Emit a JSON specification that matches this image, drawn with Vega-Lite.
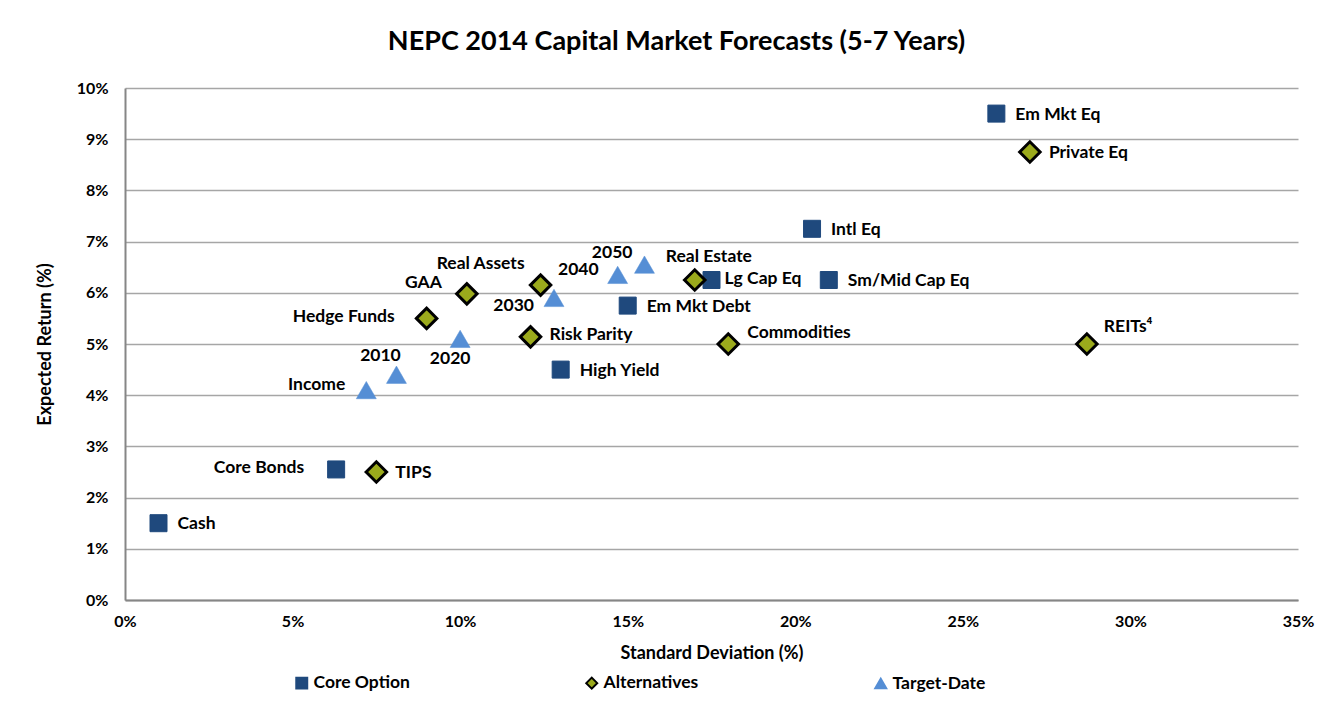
{
  "$schema": "https://vega.github.io/schema/vega-lite/v6.json",
  "width": 1173,
  "height": 512,
  "autosize": {"type": "none"},
  "padding": {"left": 125, "top": 88, "right": 40, "bottom": 104},
  "background": "white",
  "config": {
    "font": "Lato",
    "view": {"stroke": null},
    "text": {"font": "Lato", "fontWeight": "bold", "fontSize": 17.5, "color": "#000000"},
    "legend": {
      "orient": "none",
      "legendX": 168,
      "legendY": 586,
      "direction": "horizontal",
      "columnPadding": 172,
      "symbolSize": 120,
      "symbolStrokeWidth": 2,
      "labelFont": "Lato",
      "labelFontWeight": "bold",
      "labelFontSize": 17.5,
      "labelColor": "#000000",
      "labelOffset": 3
    }
  },
  "title": {
    "text": "NEPC 2014 Capital Market Forecasts (5-7 Years)",
    "font": "Lato",
    "fontSize": 27,
    "fontWeight": "bold",
    "color": "#000000",
    "anchor": "middle",
    "dx": -35,
    "offset": 24
  },
  "data": {
    "values": [
      {"label": "Cash", "group": "Core Option", "sd": 1.0, "ret": 1.5},
      {"label": "Core Bonds", "group": "Core Option", "sd": 6.3, "ret": 2.55},
      {"label": "High Yield", "group": "Core Option", "sd": 13.0, "ret": 4.5},
      {"label": "Em Mkt Debt", "group": "Core Option", "sd": 15.0, "ret": 5.75},
      {"label": "Lg Cap Eq", "group": "Core Option", "sd": 17.5, "ret": 6.25},
      {"label": "Sm/Mid Cap Eq", "group": "Core Option", "sd": 21.0, "ret": 6.25},
      {"label": "Intl Eq", "group": "Core Option", "sd": 20.5, "ret": 7.25},
      {"label": "Em Mkt Eq", "group": "Core Option", "sd": 26.0, "ret": 9.5},
      {"label": "TIPS", "group": "Alternatives", "sd": 7.5, "ret": 2.5},
      {"label": "Hedge Funds", "group": "Alternatives", "sd": 9.0, "ret": 5.5},
      {"label": "GAA", "group": "Alternatives", "sd": 10.2, "ret": 5.98},
      {"label": "Real Assets", "group": "Alternatives", "sd": 12.4, "ret": 6.15},
      {"label": "Risk Parity", "group": "Alternatives", "sd": 12.1, "ret": 5.14},
      {"label": "Commodities", "group": "Alternatives", "sd": 18.0, "ret": 5.0},
      {"label": "Real Estate", "group": "Alternatives", "sd": 17.0, "ret": 6.25},
      {"label": "Private Eq", "group": "Alternatives", "sd": 27.0, "ret": 8.75},
      {"label": "REITs⁴", "group": "Alternatives", "sd": 28.7, "ret": 5.0},
      {"label": "Income", "group": "Target-Date", "sd": 7.2, "ret": 4.1},
      {"label": "2010", "group": "Target-Date", "sd": 8.1, "ret": 4.4},
      {"label": "2020", "group": "Target-Date", "sd": 10.0, "ret": 5.1},
      {"label": "2030", "group": "Target-Date", "sd": 12.8, "ret": 5.9},
      {"label": "2040", "group": "Target-Date", "sd": 14.7, "ret": 6.35},
      {"label": "2050", "group": "Target-Date", "sd": 15.5, "ret": 6.55}
    ]
  },
  "encoding": {
    "x": {
      "field": "sd",
      "type": "quantitative",
      "scale": {"domain": [0, 35], "nice": false, "zero": true},
      "axis": {
        "title": "Standard Deviation (%)",
        "values": [0, 5, 10, 15, 20, 25, 30, 35],
        "labelExpr": "datum.value + '%'",
        "labelFlush": false,
        "grid": false,
        "ticks": false,
        "domainColor": "#868686",
        "domainWidth": 2,
        "labelFont": "Lato",
        "labelFontWeight": "bold",
        "labelFontSize": 16,
        "labelColor": "#000000",
        "labelPadding": 13,
        "titleFont": "Lato",
        "titleFontWeight": "bold",
        "titleFontSize": 18,
        "titleColor": "#000000",
        "titlePadding": 15
      }
    },
    "y": {
      "field": "ret",
      "type": "quantitative",
      "scale": {"domain": [0, 10], "nice": false},
      "axis": {
        "title": "Expected Return (%)",
        "values": [0, 1, 2, 3, 4, 5, 6, 7, 8, 9, 10],
        "labelExpr": "datum.value + '%'",
        "labelFlush": false,
        "grid": true,
        "gridColor": "#A6A6A6",
        "gridWidth": 1.5,
        "ticks": false,
        "domainColor": "#868686",
        "domainWidth": 2,
        "labelFont": "Lato",
        "labelFontWeight": "bold",
        "labelFontSize": 16,
        "labelColor": "#000000",
        "labelPadding": 17,
        "titleFont": "Lato",
        "titleFontWeight": "bold",
        "titleFontSize": 18,
        "titleColor": "#000000",
        "titlePadding": 22
      }
    }
  },
  "layer": [
    {
      "transform": [{"filter": "datum.group === 'Core Option'"}],
      "mark": {"type": "point", "filled": true, "size": 289, "strokeWidth": 1, "opacity": 1},
      "encoding": {
        "shape": {"field": "group", "type": "nominal", "title": null, "scale": {"domain": ["Core Option", "Alternatives", "Target-Date"], "range": ["square", "diamond", "triangle-up"]}},
        "fill": {"field": "group", "type": "nominal", "title": null, "scale": {"domain": ["Core Option", "Alternatives", "Target-Date"], "range": ["#1F497D", "#9BAA1C", "#558ED5"]}},
        "stroke": {"field": "group", "type": "nominal", "title": null, "scale": {"domain": ["Core Option", "Alternatives", "Target-Date"], "range": ["#1F497D", "#000000", "#558ED5"]}}
      }
    },
    {
      "transform": [{"filter": "datum.group === 'Alternatives'"}],
      "mark": {"type": "point", "filled": true, "size": 420, "strokeWidth": 3, "opacity": 1},
      "encoding": {
        "shape": {"field": "group", "type": "nominal", "title": null},
        "fill": {"field": "group", "type": "nominal", "title": null},
        "stroke": {"field": "group", "type": "nominal", "title": null}
      }
    },
    {
      "transform": [{"filter": "datum.group === 'Target-Date'"}],
      "mark": {"type": "point", "filled": true, "size": 400, "strokeWidth": 0.5, "opacity": 1},
      "encoding": {
        "shape": {"field": "group", "type": "nominal", "title": null},
        "fill": {"field": "group", "type": "nominal", "title": null},
        "stroke": {"field": "group", "type": "nominal", "title": null}
      }
    },
    {
      "transform": [{"filter": {"field": "label", "oneOf": ["Cash", "High Yield", "Em Mkt Debt", "Sm/Mid Cap Eq", "Intl Eq", "Em Mkt Eq", "TIPS", "Private Eq"]}}],
      "mark": {"type": "text", "align": "left", "baseline": "middle", "dx": 19, "dy": 1},
      "encoding": {"text": {"field": "label"}}
    },
    {
      "transform": [{"filter": {"field": "label", "oneOf": ["Lg Cap Eq"]}}],
      "mark": {"type": "text", "align": "left", "baseline": "middle", "dx": 13, "dy": -1},
      "encoding": {"text": {"field": "label"}}
    },
    {
      "transform": [{"filter": {"field": "label", "oneOf": ["Risk Parity"]}}],
      "mark": {"type": "text", "align": "left", "baseline": "middle", "dx": 19, "dy": -2},
      "encoding": {"text": {"field": "label"}}
    },
    {
      "transform": [{"filter": {"field": "label", "oneOf": ["Core Bonds", "Hedge Funds"]}}],
      "mark": {"type": "text", "align": "right", "baseline": "middle", "dx": -32, "dy": -1},
      "encoding": {"text": {"field": "label"}}
    },
    {
      "transform": [{"filter": {"field": "label", "oneOf": ["GAA"]}}],
      "mark": {"type": "text", "align": "right", "baseline": "middle", "dx": -25, "dy": -11},
      "encoding": {"text": {"field": "label"}}
    },
    {
      "transform": [{"filter": {"field": "label", "oneOf": ["Real Assets"]}}],
      "mark": {"type": "text", "align": "right", "baseline": "middle", "dx": -16, "dy": -21},
      "encoding": {"text": {"field": "label"}}
    },
    {
      "transform": [{"filter": {"field": "label", "oneOf": ["Commodities"]}}],
      "mark": {"type": "text", "align": "left", "baseline": "middle", "dx": 19, "dy": -11},
      "encoding": {"text": {"field": "label"}}
    },
    {
      "transform": [{"filter": {"field": "label", "oneOf": ["Real Estate"]}}],
      "mark": {"type": "text", "align": "left", "baseline": "middle", "dx": -29, "dy": -23},
      "encoding": {"text": {"field": "label"}}
    },
    {
      "transform": [{"filter": {"field": "label", "oneOf": ["REITs⁴"]}}],
      "mark": {"type": "text", "align": "left", "baseline": "middle", "dx": 17, "dy": -17},
      "encoding": {"text": {"field": "label"}}
    },
    {
      "transform": [{"filter": {"field": "label", "oneOf": ["Income"]}}],
      "mark": {"type": "text", "align": "right", "baseline": "middle", "dx": -21, "dy": -5},
      "encoding": {"text": {"field": "label"}}
    },
    {
      "transform": [{"filter": {"field": "label", "oneOf": ["2010"]}}],
      "mark": {"type": "text", "align": "center", "baseline": "middle", "dx": -16, "dy": -19},
      "encoding": {"text": {"field": "label"}}
    },
    {
      "transform": [{"filter": {"field": "label", "oneOf": ["2020"]}}],
      "mark": {"type": "text", "align": "center", "baseline": "middle", "dx": -10, "dy": 20},
      "encoding": {"text": {"field": "label"}}
    },
    {
      "transform": [{"filter": {"field": "label", "oneOf": ["2030"]}}],
      "mark": {"type": "text", "align": "right", "baseline": "middle", "dx": -20, "dy": 8},
      "encoding": {"text": {"field": "label"}}
    },
    {
      "transform": [{"filter": {"field": "label", "oneOf": ["2040"]}}],
      "mark": {"type": "text", "align": "right", "baseline": "middle", "dx": -19, "dy": -5},
      "encoding": {"text": {"field": "label"}}
    },
    {
      "transform": [{"filter": {"field": "label", "oneOf": ["2050"]}}],
      "mark": {"type": "text", "align": "right", "baseline": "middle", "dx": -12, "dy": -12},
      "encoding": {"text": {"field": "label"}}
    }
  ]
}
